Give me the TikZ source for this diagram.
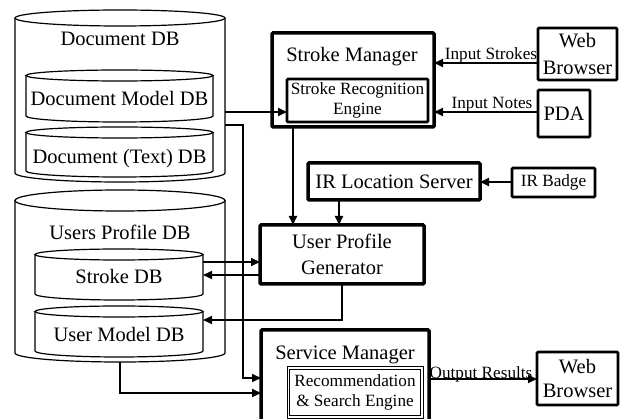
\documentclass[tikz,border=0pt]{standalone}
\usepackage{fontspec}
\setmainfont{Liberation Serif}
\usetikzlibrary{arrows.meta,calc}
\newcommand\dbcyl[4]{%
  \draw[cyl] ([yshift=-#3]#1.north) ellipse [x radius=#2, y radius=#3];
  \draw[cyl] ([yshift=-#3]#1.north west) -- ([yshift=#4]#1.south west)
     arc [start angle=180, end angle=360, x radius=#2, y radius=#4]
     -- ([yshift=-#3]#1.north east);
}
\begin{document}
\begin{tikzpicture}[x=1pt,y=-1pt,
  big/.style={font=\fontsize{20.5}{26}\selectfont},
  small/.style={font=\fontsize{17.2}{20.5}\selectfont},
  cyl/.style={line width=1.2pt},
  cylnode/.style={draw=none, inner sep=0pt, outer sep=0pt},
  box/.style={draw, line width=3.5pt, rounded corners=1pt, inner sep=0pt, outer sep=0pt, align=center},
  thinbox/.style={draw, line width=2.8pt, rounded corners=1pt, inner sep=0pt, outer sep=0pt, align=center},
  recbox/.style={draw, line width=1pt, inner sep=0pt, outer sep=0pt, align=center},
  txt/.style={inner sep=0pt, anchor=base},
  arr/.style={line width=2pt, -{Triangle[length=9pt,width=8pt]}},
]
\useasboundingbox (0,0) rectangle (621,419);
\clip (0,0) rectangle (621,419);

% ---------- cylinders ----------
\node[cylnode, minimum width=210pt, minimum height=172pt] (docdb) at (120,96) {};
\node[cylnode, minimum width=187pt, minimum height=52pt] (mdldb) at (119.5,96) {};
\node[cylnode, minimum width=187pt, minimum height=50pt] (txtdb) at (119.5,152) {};
\node[cylnode, minimum width=210pt, minimum height=172pt] (updb) at (120,276) {};
\node[cylnode, minimum width=168pt, minimum height=51pt] (strdb) at (119,274.5) {};
\node[cylnode, minimum width=168pt, minimum height=51pt] (umdb) at (119,331.5) {};

\dbcyl{docdb}{105pt}{8pt}{9pt}
\dbcyl{mdldb}{93.5pt}{5.5pt}{6pt}
\dbcyl{txtdb}{93.5pt}{5.5pt}{6pt}
\dbcyl{updb}{105pt}{10.5pt}{9pt}
\dbcyl{strdb}{84pt}{5.5pt}{6pt}
\dbcyl{umdb}{84pt}{5.5pt}{6pt}

\node[txt, big] (tdocdb) at (120,45.3) {Document DB};
\node[txt, big] (tmdldb) at (119.5,106) {Document Model DB};
\node[txt, big] (ttxtdb) at (119.5,163.5) {Document (Text) DB};
\node[txt, big] (tupdb) at (120,240) {Users Profile DB};
\node[txt, big] (tstrdb) at (119,284) {Stroke DB};
\node[txt, big] (tumdb) at (119,341.5) {User Model DB};

% ---------- boxes ----------
\node[box, minimum width=162pt, minimum height=94pt] (sm) at (353,80) {};
\node[txt, big] (tsm) at (352,62) {Stroke Manager};
\node[thinbox, small, minimum width=141pt, minimum height=43pt] (sre) at (357.5,100.5) {Stroke Recognition\\Engine};

\node[thinbox, font=\fontsize{20.5}{27}\selectfont, minimum width=79pt, minimum height=52pt] (web1) at (577.5,54) {Web\\Browser};
\node[thinbox, big, minimum width=52pt, minimum height=47pt] (pda) at (564,113.5) {PDA};

\node[box, big, minimum width=172pt, minimum height=37pt] (irls) at (394,181.5) {IR Location Server};
\node[thinbox, small, minimum width=83pt, minimum height=29pt] (irb) at (553.5,182.5) {IR Badge};

\node[box, big, minimum width=164pt, minimum height=59pt] (upg) at (342,254.5) {User Profile\\Generator};

\node[box, minimum width=168pt, minimum height=95pt] (svm) at (345,377.5) {};
\node[txt, big] (tsvm) at (345,359.5) {Service Manager};
\node[recbox, font=\fontsize{17.2}{20}\selectfont, minimum width=136pt, minimum height=51pt] (rec) at (355,392.5) {Recommendation\\\& Search Engine};
\draw[line width=0.8pt] ($(rec.north west)+(2.4,2.4)$) rectangle ($(rec.south east)+(-2.4,-2.4)$);

\node[thinbox, font=\fontsize{20.5}{23.5}\selectfont, minimum width=81pt, minimum height=53pt] (web2) at (577.5,378.5) {Web\\Browser};

% ---------- connectors ----------
\draw[arr] (docdb.east |- 0,112) -- (sre.west |- 0,112);
\coordinate (b1) at (243,125);
\draw[arr] (docdb.east |- b1) -- (b1) |- (svm.west |- 0,378);

\draw[arr] (sm.south -| 293,0) -- (upg.north -| 293,0);
\draw[arr] (irls.south -| 339,0) -- (upg.north -| 339,0);
\draw[arr] (irb.west |- 0,182) -- (irls.east |- 0,182);

\draw[arr] (web1.west |- 0,63) -- (sm.east |- 0,63);
\node[txt, small] (lin1) at (491,59.5) {Input Strokes};
\draw[arr] (pda.west |- 0,112) -- (sm.east |- 0,112);
\node[txt, small] (lin2) at (492,108.4) {Input Notes};

\draw[arr] (strdb.east |- 0,262) -- (upg.west |- 0,262);
\draw[arr] (upg.west |- 0,275) -- (strdb.east |- 0,275);
\draw[arr] (upg.south) |- (umdb.east |- 0,320);
\draw[arr] (updb.south) |- (svm.west |- 0,393);

\draw[arr] (svm.east |- 0,379) -- (web2.west |- 0,379);
\node[txt, small] (lout) at (481,378) {Output Results};
\end{tikzpicture}
\end{document}
